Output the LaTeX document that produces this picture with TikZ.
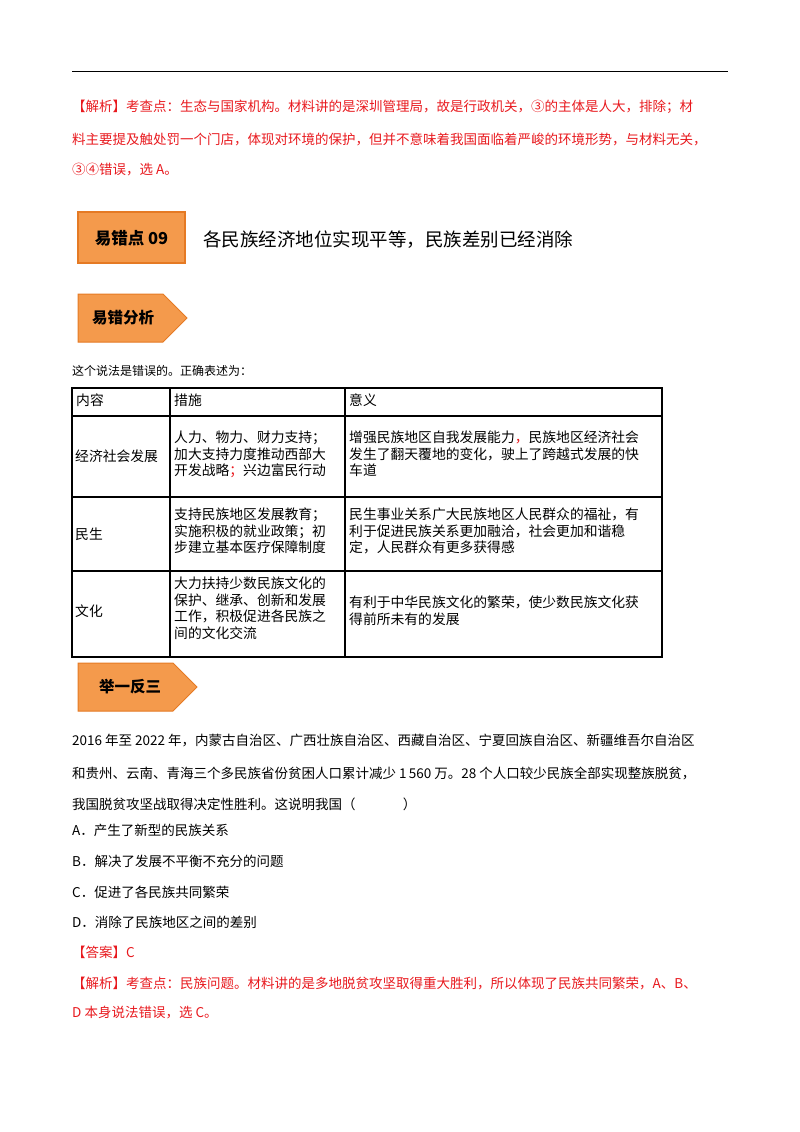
\documentclass[tikz,border=0pt]{standalone}
\usepackage{fontspec}
\setmainfont{Noto Sans CJK SC}
\usetikzlibrary{positioning}
\definecolor{tagfill}{HTML}{F49A4C}
\definecolor{tagline}{HTML}{E57A24}
\definecolor{redtext}{HTML}{E8191E}
\tikzset{
  body/.style={anchor=west, inner sep=0pt, font=\fontsize{13.5}{16}\selectfont},
  redbody/.style={body, text=redtext},
  cell/.style={anchor=north west, inner sep=0pt, align=left, font=\fontsize{13.8}{16.5}\selectfont},
  tag/.style={fill=tagfill, draw=tagline, line width=1pt},
}
\begin{document}
\begin{tikzpicture}[x=1pt, y=-1pt]
    \useasboundingbox (0,0) rectangle (800,1132);
    % Rule at the top
    \draw[line width=1pt] (72,72) -- (728,72);
    % Explanation of the previous item
    \node[redbody] (a1) at (72,107) {【解析】考查点：生态与国家机构。材料讲的是深圳管理局，故是行政机关，③的主体是人大，排除；材};
    \node[redbody] (a2) at (72,139) {料主要提及触处罚一个门店，体现对环境的保护，但并不意味着我国面临着严峻的环境形势，与材料无关，};
    \node[redbody] (a3) at (72,170) {③④错误，选 A。};
    % Header box
    \draw[tag, line width=1.5pt] (78,212) rectangle (185,263);
    \node[font=\fontsize{16.5}{20}\selectfont\bfseries] (h) at (131.5,238) {易错点 09};
    \node[body, font=\fontsize{18.5}{22}\selectfont] (title) at (203,240) {各民族经济地位实现平等，民族差别已经消除};
    % First tag
    \draw[tag] (78,294) -- (163,294) -- (187,318) -- (163,342) -- (78,342) -- cycle;
    \node[font=\fontsize{15.5}{18}\selectfont\bfseries] (t1) at (123,318) {易错分析};
    \node[body, font=\fontsize{12}{15}\selectfont] (intro) at (72,371) {这个说法是错误的。正确表述为：};
    % Table
    \draw[line width=1.1pt] (72,388) rectangle (662,657);
    \foreach \y in {416,497,571} {
        \draw[line width=1.1pt] (72,\y) -- (662,\y);
    }
    \foreach \x in {170,345} {
        \draw[line width=1.1pt] (\x,388) -- (\x,657);
    }
    \node[cell] (c00) at (76,394) {内容};
    \node[cell] (c01) at (174,394) {措施};
    \node[cell] (c02) at (349,394) {意义};
    \node[cell, anchor=west] (c10) at (75,456) {经济社会发展};
    \node[cell] (c11) at (174,431) {人力、物力、财力支持；\\加大支持力度推动西部大\\开发战略{\color{redtext}；}兴边富民行动};
    \node[cell] (c12) at (349,431) {增强民族地区自我发展能力{\color{redtext}，}民族地区经济社会\\发生了翻天覆地的变化，驶上了跨越式发展的快\\车道};
    \node[cell, anchor=west] (c20) at (75,534) {民生};
    \node[cell] (c21) at (174,508) {支持民族地区发展教育；\\实施积极的就业政策；初\\步建立基本医疗保障制度};
    \node[cell] (c22) at (349,508) {民生事业关系广大民族地区人民群众的福祉，有\\利于促进民族关系更加融洽，社会更加和谐稳\\定，人民群众有更多获得感};
    \node[cell, anchor=west] (c30) at (75,611) {文化};
    \node[cell] (c31) at (174,577) {大力扶持少数民族文化的\\保护、继承、创新和发展\\工作，积极促进各民族之\\间的文化交流};
    \node[cell] (c32) at (349,596) {有利于中华民族文化的繁荣，使少数民族文化获\\得前所未有的发展};
    % Second tag
    \draw[tag] (78,663) -- (173,663) -- (197,687) -- (173,711) -- (78,711) -- cycle;
    \node[font=\fontsize{15.5}{18}\selectfont\bfseries] (t2) at (130,687) {举一反三};
    % Question
    \node[body] (q1) at (72,741) {2016 年至 2022 年，内蒙古自治区、广西壮族自治区、西藏自治区、宁夏回族自治区、新疆维吾尔自治区};
    \node[body] (q2) at (72,773) {和贵州、云南、青海三个多民族省份贫困人口累计减少 1\,560 万。28 个人口较少民族全部实现整族脱贫，};
    \node[body] (q3) at (72,804) {我国脱贫攻坚战取得决定性胜利。这说明我国（\hspace{3.5em}）};
    \node[body] (oA) at (72,830) {A．产生了新型的民族关系};
    \node[body] (oB) at (72,861) {B．解决了发展不平衡不充分的问题};
    \node[body] (oC) at (72,892) {C．促进了各民族共同繁荣};
    \node[body] (oD) at (72,922) {D．消除了民族地区之间的差别};
    \node[redbody] (ans) at (72,952) {【答案】C};
    \node[redbody] (e1) at (72,983) {【解析】考查点：民族问题。材料讲的是多地脱贫攻坚取得重大胜利，所以体现了民族共同繁荣，A、B、};
    \node[redbody] (e2) at (72,1013) {D 本身说法错误，选 C。};
\end{tikzpicture}
\end{document}
